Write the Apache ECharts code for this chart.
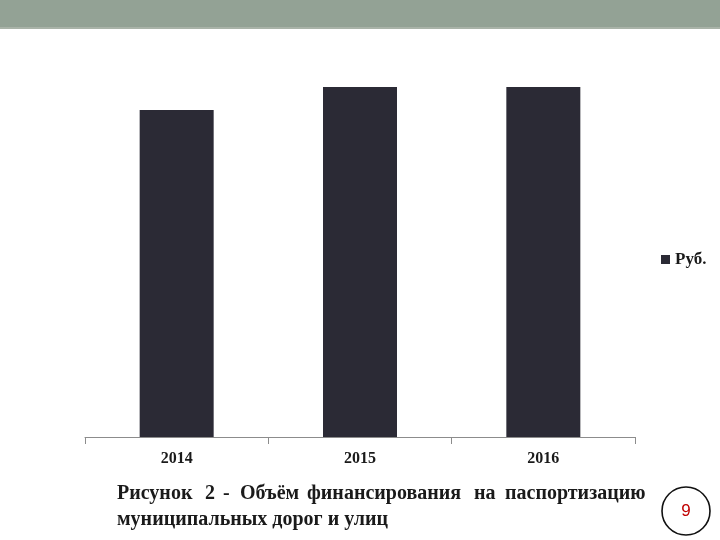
<!DOCTYPE html>
<html>
<head>
<meta charset="utf-8">
<script src="https://cdn.jsdelivr.net/npm/echarts@6/dist/echarts.min.js"></script>
<style>
  html, body {margin: 0; padding: 0; background: #fff;}
  #main {width: 720px; height: 540px;}
</style>
</head>
<body>
<div id="main"></div>
<script>
// values (no y axis shown, relative units)
var years = ['2014', '2015', '2016'];
var rub = [327, 350, 350];
var seriesName = 'Руб.';
var captionWords = [
    ['Рисунок', 117], ['2', 205], ['-', 223], ['Объём', 240],
    ['финансирования', 307], ['на', 474], ['паспортизацию', 505]
];
var captionLine2 = 'муниципальных дорог и улиц';
var pageNo = '9';

var serif = '"Liberation Serif", "DejaVu Serif", serif';

var chart = echarts.init(document.getElementById('main'));

var graphics = [
    {type: 'rect', left: 0, top: 0, shape: {width: 720, height: 28}, style: {fill: '#93a295'}, silent: true},
    {type: 'rect', left: 0, top: 27, shape: {width: 720, height: 2}, style: {fill: '#a9b3a8'}, silent: true},
    {
        type: 'text', left: 117, top: 510,
        style: {text: captionLine2, font: 'bold 20px ' + serif, fill: '#1a1a1a'}
    },
    {
        type: 'circle', shape: {cx: 686, cy: 511, r: 24},
        style: {fill: '#fff', stroke: '#111', lineWidth: 1.6}
    },
    {
        type: 'text', x: 686, y: 511,
        style: {text: pageNo, font: '17px "Liberation Sans", sans-serif', fill: '#c00000', align: 'center', verticalAlign: 'middle'}
    }
];
captionWords.forEach(function (w) {
    graphics.push({
        type: 'text', left: w[1], top: 484,
        style: {text: w[0], font: 'bold 20px ' + serif, fill: '#1a1a1a'}
    });
});

chart.setOption({
    animation: false,
    backgroundColor: '#fff',
    grid: {left: 85, right: 85, top: 37, bottom: 103},
    legend: {
        data: [seriesName],
        left: 656, top: 246,
        icon: 'rect', itemWidth: 9, itemHeight: 9, itemGap: 4,
        textStyle: {fontFamily: serif, fontWeight: 'bold', fontSize: 17, color: '#1a1a1a'}
    },
    xAxis: {
        type: 'category',
        data: years,
        axisLine: {lineStyle: {color: '#8c8c8c', width: 1}},
        axisTick: {show: true, length: 7, lineStyle: {color: '#8c8c8c'}},
        axisLabel: {margin: 14, fontFamily: serif, fontWeight: 'bold', fontSize: 16, color: '#1a1a1a'}
    },
    yAxis: {
        type: 'value', min: 0, max: 400,
        show: false, splitLine: {show: false}
    },
    series: [{
        name: seriesName,
        type: 'bar',
        data: rub,
        barWidth: 74,
        itemStyle: {color: '#2b2a35'}
    }],
    graphic: graphics
});
</script>
</body>
</html>
